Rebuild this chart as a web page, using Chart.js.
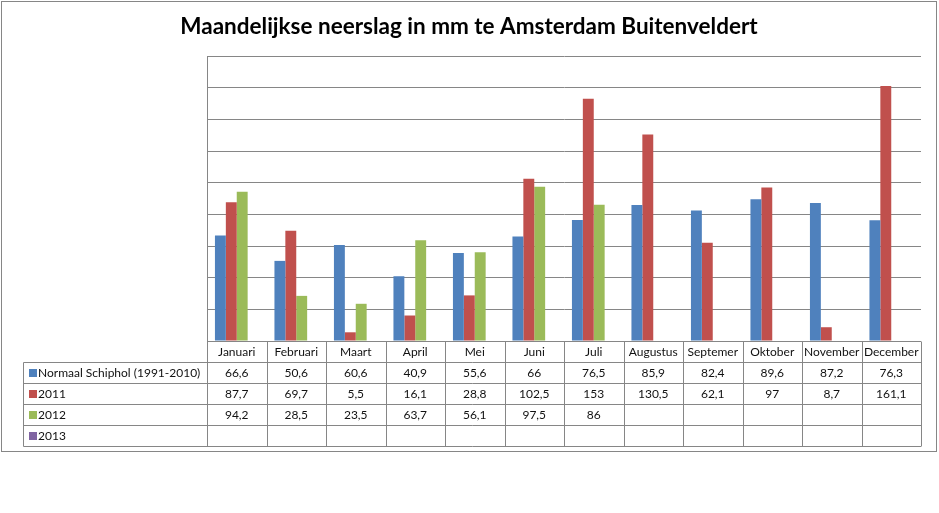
<!DOCTYPE html>
<html>
<head>
<meta charset="utf-8">
<script src="https://cdn.jsdelivr.net/npm/chart.js@4.4.0/dist/chart.umd.min.js"></script>
<style>
  html, body { margin: 0; padding: 0; background: #fff; }
  #wrap { width: 939px; height: 513px; }
</style>
</head>
<body>
<div id="wrap"><canvas id="chart" width="939" height="513"></canvas></div>
<script>
const chartTitle = "Maandelijkse neerslag in mm te Amsterdam Buitenveldert";
const months = ["Januari", "Februari", "Maart", "April", "Mei", "Juni", "Juli",
  "Augustus", "Septemer", "Oktober", "November", "December"];
const seriesNames = ["Normaal Schiphol (1991-2010)", "2011", "2012", "2013"];
const normaal = [66.6, 50.6, 60.6, 40.9, 55.6, 66, 76.5, 85.9, 82.4, 89.6, 87.2, 76.3];
const rain2011 = [87.7, 69.7, 5.5, 16.1, 28.8, 102.5, 153, 130.5, 62.1, 97, 8.7, 161.1];
const rain2012 = [94.2, 28.5, 23.5, 63.7, 56.1, 97.5, 86, null, null, null, null, null];
const rain2013 = [null, null, null, null, null, null, null, null, null, null, null, null];
const seriesColors = ["#4F81BD", "#C0504D", "#9BBB59", "#8064A2"];

const lineColor = "#868686";
const font = "Lato, 'Open Sans', sans-serif";

// Excel style data table under the plot, columns follow the x scale.
const dataTable = {
  id: "dataTable",
  beforeDraw(chart) {
    const ctx = chart.ctx;
    ctx.save();
    ctx.fillStyle = "#fff";
    ctx.fillRect(0, 0, chart.width, chart.height);
    ctx.strokeStyle = lineColor;
    ctx.lineWidth = 1;
    ctx.strokeRect(1.5, 1.5, 935, 450);
    ctx.fillStyle = "#000";
    ctx.font = "bold 22.5px " + font;
    ctx.textAlign = "center";
    ctx.textBaseline = "middle";
    ctx.fillText(chartTitle, 469, 27);
    ctx.restore();
  },
  afterDraw(chart) {
    const ctx = chart.ctx;
    const area = chart.chartArea;
    const xs = chart.scales.x;
    const half = (area.right - area.left) / months.length / 2;
    const rowH = 21;
    const top = Math.round(area.bottom) + 0.5;
    const legendLeft = 23.5;
    const bottom = top + rowH * (seriesNames.length + 1);
    const rows = [normaal, rain2011, rain2012, rain2013];

    ctx.save();
    ctx.strokeStyle = lineColor;
    ctx.lineWidth = 1;
    ctx.beginPath();
    // horizontal lines
    ctx.moveTo(area.left, top);
    ctx.lineTo(area.right, top);
    for (let r = 1; r <= seriesNames.length + 1; r++) {
      ctx.moveTo(legendLeft, top + r * rowH);
      ctx.lineTo(area.right, top + r * rowH);
    }
    // vertical lines
    ctx.moveTo(legendLeft, top + rowH);
    ctx.lineTo(legendLeft, bottom);
    for (let i = 0; i < months.length; i++) {
      const edge = Math.round(xs.getPixelForValue(i) - half) + 0.5;
      ctx.moveTo(edge, top);
      ctx.lineTo(edge, bottom);
    }
    const rightEdge = Math.round(area.right) + 0.5;
    ctx.moveTo(rightEdge, top);
    ctx.lineTo(rightEdge, bottom);
    ctx.stroke();

    ctx.font = "12px " + font;
    ctx.textBaseline = "middle";
    ctx.fillStyle = "#111";
    ctx.textAlign = "center";
    months.forEach((m, i) => {
      ctx.fillText(m, xs.getPixelForValue(i), top + rowH / 2);
    });

    rows.forEach((vals, r) => {
      const cy = top + rowH * (r + 1) + rowH / 2;
      ctx.fillStyle = seriesColors[r];
      ctx.fillRect(29, cy - 4, 8, 8);
      ctx.fillStyle = "#111";
      ctx.textAlign = "left";
      ctx.fillText(seriesNames[r], 38, cy);
      ctx.textAlign = "center";
      vals.forEach((v, i) => {
        if (v === null) return;
        ctx.fillText(String(v).replace(".", ","), xs.getPixelForValue(i), cy);
      });
    });
    ctx.restore();
  },
};

const ctx = document.getElementById("chart").getContext("2d");
new Chart(ctx, {
  type: "bar",
  data: {
    labels: months,
    datasets: [normaal, rain2011, rain2012, rain2013].map((vals, i) => ({
      label: seriesNames[i],
      data: vals,
      backgroundColor: seriesColors[i],
      borderWidth: 0,
      categoryPercentage: 0.733,
      barPercentage: 1.0,
    })),
  },
  options: {
    animation: false,
    responsive: false,
    devicePixelRatio: 1,
    layout: {
      padding: { left: 207, right: 18, top: 56, bottom: 172 },
    },
    plugins: {
      legend: { display: false },
      tooltip: { enabled: false },
    },
    scales: {
      x: { display: false },
      y: {
        min: 0,
        max: 180,
        ticks: { display: false, stepSize: 20 },
        grid: { color: lineColor, drawTicks: false },
        border: { display: true, color: lineColor },
        afterFit(scale) { scale.width = 0; },
      },
    },
  },
  plugins: [dataTable],
});
</script>
</body>
</html>
